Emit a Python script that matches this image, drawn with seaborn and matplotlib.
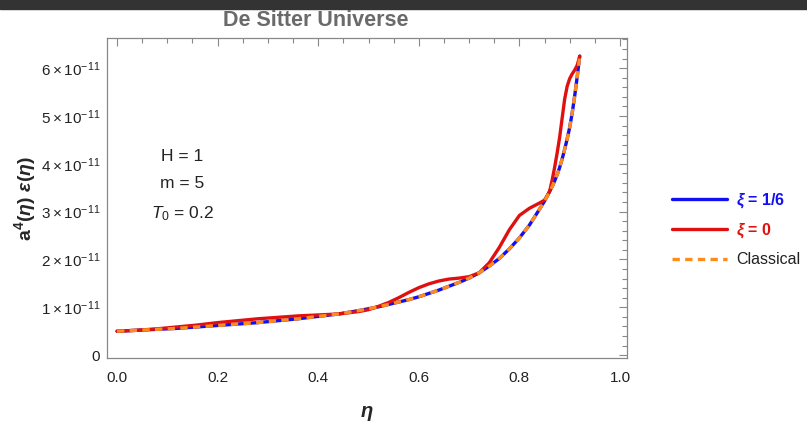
import matplotlib
matplotlib.use('Agg')
import matplotlib.pyplot as plt
from matplotlib.patches import Rectangle
from matplotlib.ticker import MultipleLocator, FixedLocator
import pandas as pd
import seaborn as sns

# ── Data (values in units of 1e-11) ─────────────────────────
eta = [0.00, 0.04, 0.08, 0.12, 0.16, 0.20, 0.24, 0.28, 0.32, 0.36,
       0.40, 0.44, 0.48, 0.50, 0.52, 0.54, 0.56, 0.58, 0.60, 0.62,
       0.64, 0.66, 0.68, 0.70, 0.72, 0.74, 0.76, 0.78, 0.80, 0.82,
       0.84, 0.85, 0.86, 0.865, 0.87, 0.875, 0.88, 0.885, 0.89, 0.895,
       0.90, 0.905, 0.91, 0.915, 0.92]

classical = [0.50, 0.52, 0.54, 0.56, 0.59, 0.62, 0.65, 0.68, 0.72, 0.76,
             0.81, 0.86, 0.93, 0.97, 1.01, 1.06, 1.11, 1.16, 1.22, 1.29,
             1.36, 1.44, 1.52, 1.61, 1.72, 1.86, 2.02, 2.22, 2.45, 2.72,
             3.05, 3.22, 3.42, 3.52, 3.64, 3.77, 3.92, 4.10, 4.30, 4.52,
             4.76, 5.06, 5.42, 5.82, 6.25]

xi_sixth = [0.50, 0.52, 0.54, 0.56, 0.59, 0.62, 0.65, 0.68, 0.72, 0.76,
            0.81, 0.86, 0.93, 0.97, 1.01, 1.06, 1.11, 1.16, 1.22, 1.29,
            1.36, 1.44, 1.52, 1.61, 1.72, 1.86, 2.02, 2.22, 2.45, 2.72,
            3.05, 3.22, 3.42, 3.52, 3.64, 3.77, 3.92, 4.10, 4.30, 4.52,
            4.76, 5.06, 5.42, 5.82, 6.25]

xi_zero = [0.50, 0.52, 0.55, 0.59, 0.63, 0.68, 0.72, 0.76, 0.79, 0.82,
           0.84, 0.86, 0.91, 0.95, 1.02, 1.10, 1.20, 1.31, 1.41, 1.49,
           1.55, 1.59, 1.61, 1.64, 1.72, 1.93, 2.25, 2.62, 2.92, 3.07,
           3.18, 3.24, 3.42, 3.65, 3.92, 4.22, 4.55, 4.95, 5.35, 5.62,
           5.78, 5.88, 5.96, 6.06, 6.25]

y_ticks = [0, 1, 2, 3, 4, 5, 6]
y_labels = ['0'] + [r'$%d\times10^{-11}$' % v for v in y_ticks[1:]]
x_ticks = [0.0, 0.2, 0.4, 0.6, 0.8, 1.0]

df = pd.DataFrame({'eta': eta, 'classical': classical,
                   'xi_sixth': xi_sixth, 'xi_zero': xi_zero})

# ── Style ────────────────────────────────────────────────────
sns.set_style('white')
plt.rcParams['font.family'] = ['Liberation Sans', 'DejaVu Sans']
plt.rcParams['mathtext.fontset'] = 'custom'
plt.rcParams['mathtext.rm'] = 'Liberation Sans'
plt.rcParams['mathtext.bf'] = 'Liberation Sans:bold'
plt.rcParams['mathtext.it'] = 'Liberation Sans:italic:bold'
plt.rcParams['mathtext.sf'] = 'Liberation Sans:italic'

fig = plt.figure(figsize=(8.07, 4.22), dpi=100)
ax = fig.add_axes([107 / 807, 1 - 358 / 422, 520 / 807, 320 / 422])

fig.patches.append(Rectangle((0, 1 - 9 / 422), 1, 9 / 422, transform=fig.transFigure,
                             color='#333333', zorder=0))

blue = '#1010F0'
red = '#E01010'
orange = '#FF8C1A'

sns.lineplot(data=df, x='eta', y='xi_sixth', ax=ax, color=blue, lw=2.4,
             label=r'$\xi$ = 1/6', zorder=3)
sns.lineplot(data=df, x='eta', y='xi_zero', ax=ax, color=red, lw=2.4,
             label=r'$\xi$ = 0', zorder=4)
sns.lineplot(data=df, x='eta', y='classical', ax=ax, color=orange, lw=2.4,
             dashes=(2.2, 1.6), label='Classical', zorder=5)

ax.set_xlim(-0.02, 1.014)
ax.set_ylim(-0.06, 6.63)
ax.xaxis.set_major_locator(FixedLocator(x_ticks))
ax.xaxis.set_minor_locator(MultipleLocator(0.05))
ax.yaxis.set_major_locator(FixedLocator(y_ticks))
ax.yaxis.set_minor_locator(MultipleLocator(0.2))
ax.set_xticklabels(['%.1f' % v for v in x_ticks])
ax.set_yticklabels(y_labels)
ax.tick_params(which='both', direction='in', top=True, right=True,
               colors='#888888', labelcolor='#222222', labelsize=11, width=0.8)
ax.tick_params(which='major', length=6)
ax.tick_params(axis='x', pad=9)
ax.tick_params(axis='y', pad=5)
ax.tick_params(which='minor', length=3.5)
for s in ax.spines.values():
    s.set_color('#888888')
    s.set_linewidth(0.9)

ax.set_xlabel(r'$\eta$', fontsize=14.5, labelpad=14)
ax.set_ylabel(r'$\mathbf{a}^{\mathbf{4}}\mathbf{(}\eta\mathbf{)}\ \varepsilon\mathbf{(}\eta\mathbf{)}$',
              fontsize=14, labelpad=2)

ax.text(0.145, 0.5375, 'H = 1\nm = 5\n' + r'$\mathsf{T}_{0}$ = 0.2', transform=ax.transAxes,
        ha='center', va='center', fontsize=12.5, color='#222222', linespacing=1.95)

fig.text(316 / 807, 1 - 21 / 422, 'De Sitter Universe', ha='center', va='center',
         fontsize=15.5, fontweight='bold', color='#6a6a6a')

leg = ax.legend(loc='center left', bbox_to_anchor=(658 / 807, 1 - 229 / 422),
                bbox_transform=fig.transFigure, frameon=False, fontsize=11.5,
                handlelength=3.4, labelspacing=0.75, handletextpad=0.6,
                labelcolor=[blue, red, '#222222'])
for t in leg.get_texts()[:2]:
    t.set_fontweight('bold')

fig.savefig('out.png', dpi=100)
